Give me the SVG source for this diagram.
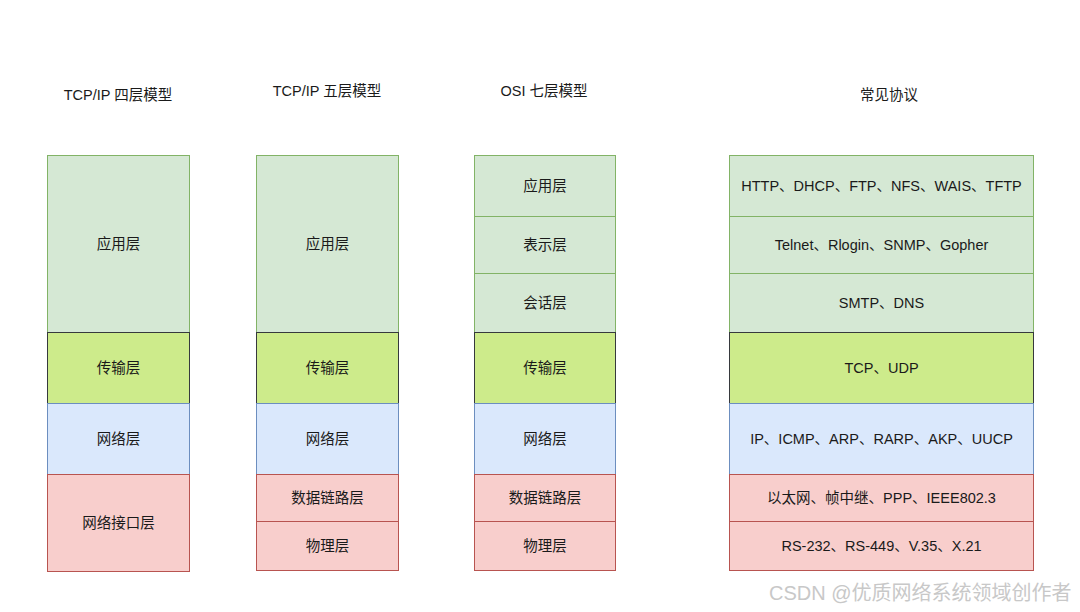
<svg xmlns="http://www.w3.org/2000/svg" width="1080" height="612" viewBox="0 0 1080 612">
<style>
text{font-family:"Liberation Sans","Noto Sans CJK SC",sans-serif;font-size:14.5px;fill:#1a1a1a;text-anchor:middle;dominant-baseline:central}
.app{fill:#d5e8d4;stroke:#82b366;stroke-width:1}
.tr{fill:#cdeb8b;stroke:#36393d;stroke-width:1}
.net{fill:#dae8fc;stroke:#6c8ebf;stroke-width:1}
.lk{fill:#f8cecc;stroke:#b85450;stroke-width:1}
.wm{font-size:20px;fill:#c8c8c8;text-anchor:start}
</style>
<rect width="1080" height="612" fill="#ffffff"/>
<g id="titles">
<text x="118" y="95">TCP/IP 四层模型</text>
<text x="327" y="91">TCP/IP 五层模型</text>
<text x="544" y="91">OSI 七层模型</text>
<text x="889" y="95">常见协议</text>
</g>
<g id="col1">
<g id="c1-app"><rect class="app" x="47.5" y="155.5" width="142" height="177"/><text x="118.5" y="244">应用层</text></g>
<g id="c1-tr"><rect class="tr" x="47.5" y="332.5" width="142" height="71"/><text x="118.5" y="368">传输层</text></g>
<g id="c1-net"><rect class="net" x="47.5" y="403.5" width="142" height="71"/><text x="118.5" y="439">网络层</text></g>
<g id="c1-lk"><rect class="lk" x="47.5" y="474.5" width="142" height="97"/><text x="118.5" y="523">网络接口层</text></g>
</g>
<g id="col2">
<g id="c2-app"><rect class="app" x="256.5" y="155.5" width="142" height="177"/><text x="327.5" y="244">应用层</text></g>
<g id="c2-tr"><rect class="tr" x="256.5" y="332.5" width="142" height="71"/><text x="327.5" y="368">传输层</text></g>
<g id="c2-net"><rect class="net" x="256.5" y="403.5" width="142" height="71"/><text x="327.5" y="439">网络层</text></g>
<g id="c2-dl"><rect class="lk" x="256.5" y="474.5" width="142" height="47"/><text x="327.5" y="498">数据链路层</text></g>
<g id="c2-ph"><rect class="lk" x="256.5" y="521.5" width="142" height="49"/><text x="327.5" y="546">物理层</text></g>
</g>
<g id="col3">
<g id="c3-app"><rect class="app" x="474.5" y="155.5" width="141" height="61"/><text x="545" y="186">应用层</text></g>
<g id="c3-pr"><rect class="app" x="474.5" y="216.5" width="141" height="57"/><text x="545" y="245">表示层</text></g>
<g id="c3-se"><rect class="app" x="474.5" y="273.5" width="141" height="59"/><text x="545" y="303">会话层</text></g>
<g id="c3-tr"><rect class="tr" x="474.5" y="332.5" width="141" height="71"/><text x="545" y="368">传输层</text></g>
<g id="c3-net"><rect class="net" x="474.5" y="403.5" width="141" height="71"/><text x="545" y="439">网络层</text></g>
<g id="c3-dl"><rect class="lk" x="474.5" y="474.5" width="141" height="47"/><text x="545" y="498">数据链路层</text></g>
<g id="c3-ph"><rect class="lk" x="474.5" y="521.5" width="141" height="49"/><text x="545" y="546">物理层</text></g>
</g>
<g id="col4">
<g id="c4-app"><rect class="app" x="729.5" y="155.5" width="304" height="61"/><text x="881.5" y="186">HTTP、DHCP、FTP、NFS、WAIS、TFTP</text></g>
<g id="c4-pr"><rect class="app" x="729.5" y="216.5" width="304" height="57"/><text x="881.5" y="245">Telnet、Rlogin、SNMP、Gopher</text></g>
<g id="c4-se"><rect class="app" x="729.5" y="273.5" width="304" height="59"/><text x="881.5" y="303">SMTP、DNS</text></g>
<g id="c4-tr"><rect class="tr" x="729.5" y="332.5" width="304" height="71"/><text x="881.5" y="368">TCP、UDP</text></g>
<g id="c4-net"><rect class="net" x="729.5" y="403.5" width="304" height="71"/><text x="881.5" y="439">IP、ICMP、ARP、RARP、AKP、UUCP</text></g>
<g id="c4-dl"><rect class="lk" x="729.5" y="474.5" width="304" height="47"/><text x="881.5" y="498">以太网、帧中继、PPP、IEEE802.3</text></g>
<g id="c4-ph"><rect class="lk" x="729.5" y="521.5" width="304" height="49"/><text x="881.5" y="546">RS-232、RS-449、V.35、X.21</text></g>
</g>
<g id="connectors"></g>
<text class="wm" x="769" y="593">CSDN @优质网络系统领域创作者</text>
</svg>
